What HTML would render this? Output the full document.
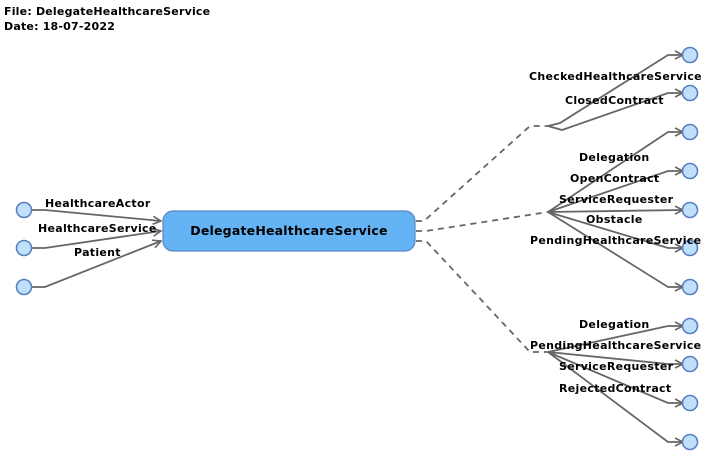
<!DOCTYPE html>
<html><head><style>
body{margin:0;background:#fff}
svg text{font-family:"DejaVu Sans","Liberation Sans",sans-serif;font-weight:bold;font-size:11px;fill:#000;letter-spacing:0.3px}
</style></head><body>
<svg width="711" height="470" viewBox="0 0 711 470" xmlns="http://www.w3.org/2000/svg">
<defs><marker id="a" markerWidth="10" markerHeight="10" refX="9" refY="5" orient="auto" markerUnits="userSpaceOnUse"><path d="M1,1 L9,5 L1,9" fill="none" stroke="#666" stroke-width="1.6"/></marker></defs>
<text x="4" y="15" style="letter-spacing:0.2px">File: DelegateHealthcareService</text>
<text x="4" y="30" style="letter-spacing:0.2px">Date: 18-07-2022</text>
<g fill="none" stroke="#666" stroke-width="1.8" stroke-dasharray="6,5">
<path d="M416,221 L424,221 L530,126 L548,126"/>
<path d="M416,231 L426,231 L548,212"/>
<path d="M416,241 L426,241 L530,352 L548,352"/>
</g>
<g fill="none" stroke="#666" stroke-width="1.8" marker-end="url(#a)">
<path d="M31,210 L45,210 L161,221"/>
<path d="M31,248 L45,248 L161,231"/>
<path d="M31,287 L45,287 L161,241"/>
<path d="M548,126 L560,123 L668,55 L683,55"/>
<path d="M548,126 L562,130 L668,93 L683,93"/>
<path d="M548,212 L668,132 L683,132"/>
<path d="M548,212 L668,171 L683,171"/>
<path d="M548,212 L683,210"/>
<path d="M548,212 L668,248 L683,248"/>
<path d="M548,212 L668,287 L683,287"/>
<path d="M548,352 L668,326 L683,326"/>
<path d="M548,352 L668,364 L683,364"/>
<path d="M548,352 L668,403 L683,403"/>
<path d="M548,352 L668,442 L683,442"/>
</g>
<rect x="163" y="211" width="252" height="40" rx="10" fill="#63b3f5" stroke="#5a86c0" stroke-width="1.2"/>
<text x="289" y="235" text-anchor="middle" style="font-size:12.5px;letter-spacing:0.2px">DelegateHealthcareService</text>
<g fill="#bfe0fb" stroke="#5a7fc0" stroke-width="1.6">
<circle cx="24" cy="210" r="7.5"/><circle cx="24" cy="248" r="7.5"/><circle cx="24" cy="287" r="7.5"/>
<circle cx="690" cy="55" r="7.5"/><circle cx="690" cy="93" r="7.5"/><circle cx="690" cy="132" r="7.5"/>
<circle cx="690" cy="171" r="7.5"/><circle cx="690" cy="210" r="7.5"/><circle cx="690" cy="248" r="7.5"/>
<circle cx="690" cy="287" r="7.5"/><circle cx="690" cy="326" r="7.5"/><circle cx="690" cy="364" r="7.5"/>
<circle cx="690" cy="403" r="7.5"/><circle cx="690" cy="442" r="7.5"/>
</g>
<text x="45" y="207">HealthcareActor</text>
<text x="38" y="232">HealthcareService</text>
<text x="74" y="256">Patient</text>
<text x="529" y="80">CheckedHealthcareService</text>
<text x="565" y="104">ClosedContract</text>
<text x="579" y="161">Delegation</text>
<text x="570" y="182">OpenContract</text>
<text x="559" y="203">ServiceRequester</text>
<text x="586" y="223">Obstacle</text>
<text x="530" y="244">PendingHealthcareService</text>
<text x="579" y="328">Delegation</text>
<text x="530" y="349">PendingHealthcareService</text>
<text x="559" y="370">ServiceRequester</text>
<text x="559" y="392">RejectedContract</text>
</svg>
</body></html>
